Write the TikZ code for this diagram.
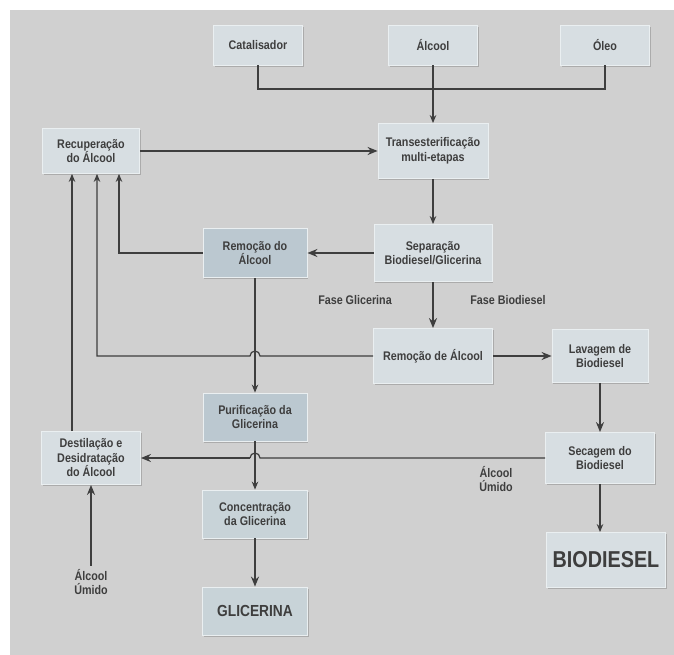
\documentclass[tikz,border=0pt]{standalone}
\usepackage{fontspec}
\setmainfont{Liberation Sans}[FakeStretch=0.86]
\usetikzlibrary{arrows.meta, positioning, shadows}
\definecolor{bggray}{RGB}{208,208,208}
\definecolor{boxfill}{RGB}{215,222,226}
\definecolor{boxmid}{RGB}{200,211,216}
\definecolor{boxdark}{RGB}{187,200,208}
\definecolor{boxline}{RGB}{234,239,241}
\definecolor{txtgray}{RGB}{62,62,62}
\definecolor{linegray}{RGB}{62,62,62}
\tikzstyle{procbox} = [rectangle, minimum width=100pt, minimum height=48pt, align=center, draw=boxline, line width=0.8pt, fill=boxfill, text=txtgray, font=\fontsize{12.5}{14.5}\selectfont\bfseries, drop shadow={shadow xshift=1.2pt, shadow yshift=-1.6pt, fill=black!50, opacity=0.45}]
\tikzstyle{midbox} = [procbox, fill=boxmid]
\tikzstyle{darkbox} = [procbox, fill=boxdark]
\tikzstyle{flowlabel} = [text=txtgray, align=center, font=\fontsize{12.5}{14.5}\selectfont\bfseries]
\tikzstyle{flowline} = [line width=1.2pt, draw=linegray]
\tikzstyle{arrow} = [flowline, -{Stealth[length=8pt, width=6.5pt]}]
\tikzstyle{thickarrow} = [line width=2.4pt, draw=linegray, -{Stealth[length=10pt, width=8pt]}]

\begin{document}
\begin{tikzpicture}[x=1pt, y=1pt, node distance=100pt]
\useasboundingbox (0,0) rectangle (674,655);
\fill [bggray] (10,0) rectangle (674,645);

% Nodes
\node (alc) [procbox, minimum width=89pt, minimum height=40pt] at (433,610) {Álcool};
\node (cat) [procbox, minimum width=89pt, minimum height=40pt, left of=alc, xshift=-75pt] {Catalisador};
\node (oleo) [procbox, minimum width=89pt, minimum height=40pt, right of=alc, xshift=72pt] {Óleo};
\node (trans) [procbox, minimum width=110pt, minimum height=55pt, below of=alc, yshift=-6pt] {Transesterificação\\multi-etapas};
\node (sep) [procbox, minimum width=118pt, minimum height=57pt, below of=trans, yshift=-2pt] {Separação\\Biodiesel/Glicerina};
\node (rem2) [procbox, minimum width=119pt, minimum height=55pt, below of=sep, yshift=-3pt] {Remoção de Álcool};
\node (lav) [procbox, minimum width=96pt, minimum height=53pt, right of=rem2, xshift=67pt] {Lavagem de\\Biodiesel};
\node (sec) [procbox, minimum width=109pt, minimum height=51pt, below of=lav, yshift=-2pt] {Secagem do\\Biodiesel};
\node (bio) [procbox, minimum width=119pt, minimum height=55pt, below of=sec, yshift=-2pt, xshift=6pt, font=\fontsize{23}{26}\selectfont\bfseries] {BIODIESEL};
\node (remA) [darkbox, minimum width=104pt, minimum height=49pt, left of=sep, xshift=-78pt] {Remoção do\\Álcool};
\node (pur) [darkbox, minimum width=104pt, minimum height=48pt, below of=remA, yshift=-64pt] {Purificação da\\Glicerina};
\node (conc) [midbox, minimum width=105pt, minimum height=48pt, below of=pur, yshift=3pt] {Concentração\\da Glicerina};
\node (glic) [midbox, minimum width=105pt, minimum height=48pt, below of=conc, yshift=3pt, font=\fontsize{16}{19}\selectfont\bfseries] {GLICERINA};
\node (rec) [procbox, minimum width=97pt, minimum height=45pt] at (91,504) {Recuperação\\do Álcool};
\node (dest) [procbox, minimum width=99pt, minimum height=53pt] at (91,197) {Destilação e\\Desidratação\\do Álcool};

% Labels
\node (faseG) [flowlabel] at (355,355) {Fase Glicerina};
\node (faseB) [flowlabel] at (508,355) {Fase Biodiesel};
\node (umido1) [flowlabel] at (496,176) {Álcool\\Úmido};
\node (umido2) [flowlabel] at (91,73) {Álcool\\Úmido};

% Crossings
\coordinate (jumpA) at (remA |- rem2);
\coordinate (jumpB) at (remA |- sec);
\coordinate (feed) at (alc |- 0,566);

% Arrows
\draw [flowline] (cat) |- (feed) -| (oleo);
\draw [arrow] (alc) -- (trans);
\draw [thickarrow] (rec) -- (trans);
\draw [arrow] (trans) -- (sep);
\draw [thickarrow] (sep) -- (remA);
\draw [arrow] (remA.west) -| ([xshift=28pt]rec.south);
\draw [thickarrow] (sep) -- (rem2);
\draw [thickarrow] (rem2) -- (lav);
\draw [arrow] (rem2.west) -- ([xshift=5pt]jumpA) arc[start angle=0, end angle=180, radius=5pt] -| ([xshift=6pt]rec.south);
\draw [arrow] (remA) -- (pur);
\draw [thickarrow] (lav) -- (sec);
\draw [flowline] (sec.west) -- ([xshift=5pt]jumpB) arc[start angle=0, end angle=180, radius=5pt];
\draw [thickarrow] ([xshift=-5pt]jumpB) -- (dest.east);
\draw [arrow] (pur) -- (conc);
\draw [thickarrow] (conc) -- (glic);
\draw [arrow] (sec.south) -- (sec.south |- bio.north);
\draw [arrow] ([xshift=-19pt]dest.north) -- ([xshift=-19pt]rec.south);
\draw [thickarrow] (umido2) -- (dest);

\end{tikzpicture}
\end{document}
